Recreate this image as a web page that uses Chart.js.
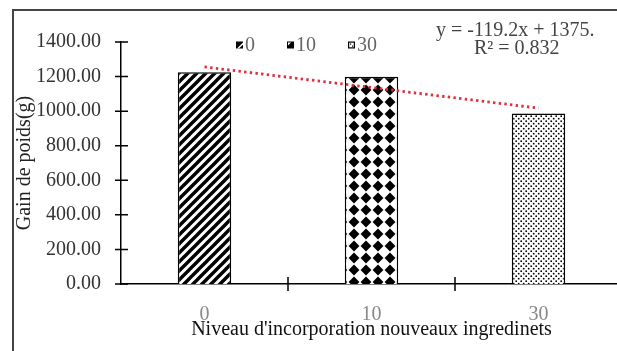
<!DOCTYPE html>
<html>
<head>
<meta charset="utf-8">
<script src="https://cdn.jsdelivr.net/npm/chart.js@4/dist/chart.umd.min.js"></script>
<style>
html, body { margin:0; padding:0; background:#fff; overflow:hidden; width:617px; height:351px; }
#frame { position:absolute; left:12px; top:9px; width:700px; height:400px; border:2px solid #444; }
#gainChart { position:absolute; left:0; top:0; }
</style>
</head>
<body>
<div id="frame"></div>
<canvas id="gainChart" width="650" height="351"></canvas>

<script>
// values
var levels = ['0', '10', '30'];
var gain = [1224.9, 1198.4, 986.5];
var trend = [1255.8, 1136.6, 1017.4];
var yTicks = [0, 200, 400, 600, 800, 1000, 1200, 1400];
var equation = ['y = -119.2x + 1375.', 'R\u00b2 = 0.832'];

var serif = "'Liberation Serif', 'Times New Roman', serif";
Chart.defaults.font.family = serif;

var ctx = document.getElementById('gainChart').getContext('2d');

function tile(size, draw) {
    var c = document.createElement('canvas');
    c.width = size; c.height = size;
    var g = c.getContext('2d');
    g.fillStyle = '#fff';
    g.fillRect(0, 0, size, size);
    draw(g, size);
    return ctx.createPattern(c, 'repeat');
}

var stripes = tile(9, function (g, s) {
    g.strokeStyle = '#000';
    g.lineWidth = 3.4;
    g.beginPath();
    g.moveTo(-2, s + 2); g.lineTo(s + 2, -2);
    g.moveTo(-2, 2); g.lineTo(2, -2);
    g.moveTo(s - 2, s + 2); g.lineTo(s + 2, s - 2);
    g.stroke();
});

var diamonds = tile(12, function (g, s) {
    g.fillStyle = '#000';
    g.beginPath();
    g.moveTo(6, 0.6); g.lineTo(11.4, 6); g.lineTo(6, 11.4); g.lineTo(0.6, 6);
    g.closePath();
    g.fill();
});

var dots = tile(5, function (g, s) {
    g.fillStyle = '#000';
    g.beginPath();
    g.arc(1.2, 1.2, 0.9, 0, Math.PI * 2);
    g.arc(3.7, 3.7, 0.9, 0, Math.PI * 2);
    g.fill();
});

var fills = [stripes, diamonds, dots];

var extras = {
    id: 'extras',
    afterDraw: function (chart) {
        var c = chart.ctx, xs = chart.scales.x, ys = chart.scales.y;
        c.save();
        // crossing tick marks
        c.strokeStyle = '#000';
        c.lineWidth = 1.5;
        c.beginPath();
        ys.ticks.forEach(function (t) {
            var y = ys.getPixelForValue(t.value);
            c.moveTo(xs.left - 6, y); c.lineTo(xs.left + 7, y);
        });
        var half = (xs.getPixelForValue(1) - xs.getPixelForValue(0)) / 2;
        for (var i = 0; i < levels.length; i++) {
            var x = xs.getPixelForValue(i) + half;
            c.moveTo(x, ys.bottom - 7); c.lineTo(x, ys.bottom + 7);
        }
        c.stroke();

        // legend
        c.font = '20px ' + serif;
        c.textBaseline = 'middle';
        c.textAlign = 'left';
        var lx = 236, ly = 45;
        for (var j = 0; j < levels.length; j++) {
            c.fillStyle = '#000';
            c.fillRect(lx, ly - 3.5, 7, 7);
            c.fillStyle = '#fff';
            if (j === 0) {
                c.beginPath(); c.moveTo(lx + 1, ly + 3.5); c.lineTo(lx + 7, ly - 2.5); c.lineTo(lx + 7, ly - 0.5); c.lineTo(lx + 3, ly + 3.5); c.fill();
            } else if (j === 1) {
                c.beginPath(); c.moveTo(lx + 1, ly - 2.5); c.lineTo(lx + 4, ly - 2.5); c.lineTo(lx + 1, ly + 0.5); c.fill();
            } else {
                c.fillRect(lx + 1.2, ly - 2.3, 4.6, 4.6);
                c.fillStyle = '#000';
                c.fillRect(lx + 2, ly - 1.5, 1.2, 1.2);
                c.fillRect(lx + 4, ly + 0.5, 1.2, 1.2);
            }
            c.fillStyle = '#666';
            c.fillText(levels[j], lx + 9, ly + 1);
            lx += 7 + 9 + c.measureText(levels[j]).width + 25;
        }

        // trend equation
        c.fillStyle = '#444';
        c.fillText(equation[0], 436, 31);
        c.fillText(equation[1], 474, 49);
        c.restore();
    }
};

var chart = new Chart(ctx, {
    type: 'bar',
    data: {
        labels: levels,
        datasets: [{
            type: 'line',
            data: trend,
            borderColor: 'rgb(225, 45, 60)',
            borderWidth: 2.8,
            borderDash: [2.4, 3.3],
            pointRadius: 0,
            fill: false,
            order: 0
        }, {
            data: gain,
            backgroundColor: fills,
            borderColor: '#000',
            borderWidth: 1.5,
            barPercentage: 0.32,
            categoryPercentage: 1,
            order: 1
        }]
    },
    options: {
        responsive: false,
        animation: false,
        layout: { padding: { left: 0, right: 28, top: 42, bottom: 0 } },
        plugins: { legend: { display: false }, tooltip: { enabled: false } },
        scales: {
            x: {
                offset: true,
                grid: { display: false, drawTicks: false },
                border: { display: true, color: '#000', width: 1.5 },
                ticks: { color: '#888', font: { size: 20 }, padding: 19 },
                title: {
                    display: true,
                    text: "Niveau d'incorporation nouveaux ingredinets",
                    color: '#111',
                    font: { size: 20 },
                    padding: { top: 0, bottom: 9 }
                },
                afterFit: function (s) { s.height = 67; }
            },
            y: {
                min: 0,
                max: 1400,
                afterBuildTicks: function (s) {
                    s.ticks = yTicks.map(function (v) { return { value: v }; });
                },
                grid: { display: false, drawTicks: false },
                border: { display: true, color: '#000', width: 1.5 },
                ticks: {
                    color: '#333',
                    font: { size: 20 },
                    padding: 20,
                    callback: function (v) { return Number(v).toFixed(2); }
                },
                title: {
                    display: true,
                    text: 'Gain de poids(g)',
                    color: '#222',
                    font: { size: 20 },
                    padding: { top: 13, bottom: 0 }
                },
                afterFit: function (s) { s.width = 121; }
            }
        }
    },
    plugins: [extras]
});
</script>
</body>
</html>
